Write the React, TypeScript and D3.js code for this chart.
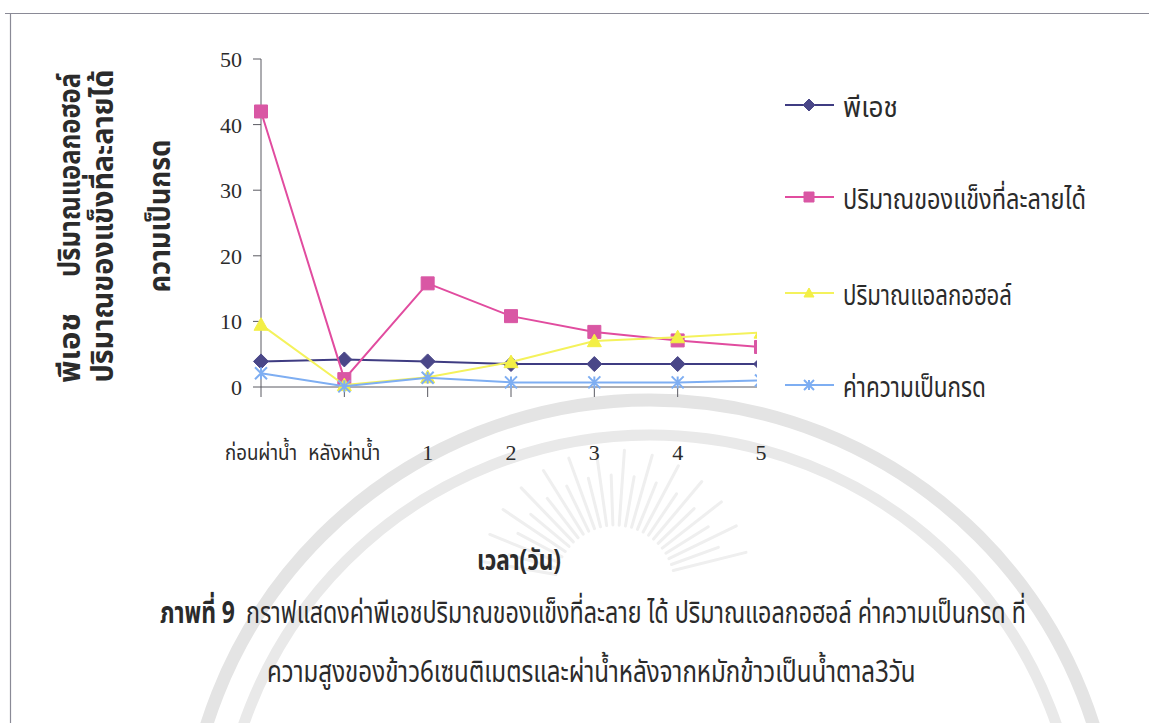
import React, { useLayoutEffect, useRef, useState } from 'react';
import * as d3 from 'd3';

// ---- data ----
const categories = ['ก่อนผ่าน้ำ', 'หลังผ่าน้ำ', '1', '2', '3', '4', '5'];
const phValues = [3.9, 4.2, 3.9, 3.5, 3.5, 3.5, 3.5];
const solidsValues = [42, 1.2, 15.8, 10.8, 8.4, 7.1, 6.1];
const alcoholValues = [9.5, 0.3, 1.5, 3.8, 7.0, 7.6, 8.3];
const acidityValues = [2.1, 0.1, 1.4, 0.7, 0.7, 0.7, 1.0];
const seriesNames = ['พีเอช', 'ปริมาณของแข็งที่ละลายได้', 'ปริมาณแอลกอฮอล์', 'ค่าความเป็นกรด'];
const yTicks = [0, 10, 20, 30, 40, 50];

const xTitle = 'เวลา(วัน)';
const yTitleLines = ['พีเอช', 'ปริมาณแอลกอฮอล์', 'ปริมาณของแข็งที่ละลายได้', 'ความเป็นกรด'];
const captionLead = 'ภาพที่ 9';
const captionLine1 = 'กราฟแสดงค่าพีเอชปริมาณของแข็งที่ละลาย ได้ ปริมาณแอลกอฮอล์ ค่าความเป็นกรด ที่';
const captionLine2 = 'ความสูงของข้าว6เซนติเมตรและผ่าน้ำหลังจากหมักข้าวเป็นน้ำตาล3วัน';

type MarkerKind = 'diamond' | 'square' | 'triangle' | 'cross';

const series: { name: string; values: number[]; line: string; fill: string; marker: MarkerKind; size: number }[] = [
  { name: seriesNames[0], values: phValues, line: '#3f3c82', fill: '#4a4788', marker: 'diamond', size: 15 },
  { name: seriesNames[1], values: solidsValues, line: '#e14c9f', fill: '#d957a4', marker: 'square', size: 13 },
  { name: seriesNames[2], values: alcoholValues, line: '#f4f25c', fill: '#f3ef45', marker: 'triangle', size: 14 },
  { name: seriesNames[3], values: acidityValues, line: '#7eaef2', fill: '#7eaef2', marker: 'cross', size: 12 },
];

const THAI = "'Noto Sans Thai','Noto Serif Thai','Loma','Garuda','Norasi','Kinnari','Tlwg Typo','DejaVu Sans',sans-serif";
const SERIF = "'Liberation Serif','Times New Roman',serif";
const INK = '#2b2b2b';

const W = 1149;
const H = 723;

const x = d3.scalePoint<string>().domain(categories).range([261, 761]);
const y = d3.scaleLinear().domain([0, 50]).range([387, 59]);

function markerPath(kind: MarkerKind, cx: number, cy: number, s: number): string {
  const h = s / 2;
  const p = d3.path();
  if (kind === 'diamond') {
    p.moveTo(cx, cy - h); p.lineTo(cx + h, cy); p.lineTo(cx, cy + h); p.lineTo(cx - h, cy); p.closePath();
  } else if (kind === 'square') {
    p.rect(cx - h, cy - h, s, s);
  } else if (kind === 'triangle') {
    p.moveTo(cx, cy - h); p.lineTo(cx + h, cy + h * 0.8); p.lineTo(cx - h, cy + h * 0.8); p.closePath();
  } else {
    p.moveTo(cx - h, cy - h); p.lineTo(cx + h, cy + h);
    p.moveTo(cx + h, cy - h); p.lineTo(cx - h, cy + h);
    p.moveTo(cx, cy - h); p.lineTo(cx, cy + h);
  }
  return p.toString();
}

function Marker({ kind, cx, cy, s, color }: { kind: MarkerKind; cx: number; cy: number; s: number; color: string }) {
  const d = markerPath(kind, cx, cy, s);
  if (kind === 'cross') return <path d={d} stroke={color} strokeWidth={2} fill="none" />;
  return <path d={d} fill={color} stroke={color} strokeWidth={1} />;
}

// Text squeezed horizontally (in its own frame) to a given advance width,
// which gives the narrow look of the document's Thai face.
function FitText({ x: tx, y: ty, width, anchor = 'start', rotate = 0, children, ...rest }: any) {
  const ref = useRef<SVGTextElement>(null);
  const [k, setK] = useState(1);
  useLayoutEffect(() => {
    const el = ref.current;
    if (el) {
      const w = el.getComputedTextLength();
      if (w > 0) setK(width / w);
    }
  }, [width, children]);
  return (
    <g transform={`translate(${tx},${ty}) rotate(${rotate}) scale(${k},1)`}>
      <text ref={ref} x={0} y={0} textAnchor={anchor} {...rest}>{children}</text>
    </g>
  );
}

// faint seal printed behind the page text
function Seal() {
  const cx = 650;
  const cy = 865;
  const rays = d3.range(-170, -8, 6);
  const sun = { x: 615, y: 585 };
  return (
    <g>
      <circle cx={cx} cy={cy} r={465} fill="none" stroke="#e4e4e4" strokeWidth={13} />
      <circle cx={cx} cy={cy} r={430} fill="none" stroke="#e9e9e9" strokeWidth={11} />
      {rays.map((a, i) => {
        const r0 = 60;
        const r1 = i % 2 === 0 ? 135 : 110;
        const t = (a * Math.PI) / 180;
        return (
          <line key={a}
            x1={sun.x + r0 * Math.cos(t)} y1={sun.y + r0 * Math.sin(t)}
            x2={sun.x + r1 * Math.cos(t)} y2={sun.y + r1 * Math.sin(t)}
            stroke="#efefef" strokeWidth={3} strokeLinecap="round" />
        );
      })}
    </g>
  );
}

export default function App() {
  const lineGen = (vals: number[]) =>
    d3.line<number>().x((_, i) => x(categories[i]) as number).y((v) => y(v))(vals) as string;

  const legendRows = [105, 197, 293, 385];
  const legendWidths = [55, 243, 169, 143];

  return (
    <svg width={W} height={H} viewBox={`0 0 ${W} ${H}`}
      style={{ position: 'absolute', left: 0, top: 0, background: '#fff' }}>
      <rect x={0} y={0} width={W} height={H} fill="#fff" />
      <Seal />

      {/* page frame */}
      <line x1={5} y1={13.5} x2={W} y2={13.5} stroke="#8a8a96" strokeWidth={1.2} />
      <line x1={10.5} y1={13} x2={10.5} y2={H} stroke="#8a8a96" strokeWidth={1.2} />

      <defs>
        <clipPath id="plot-clip">
          <rect x={0} y={0} width={757} height={H} />
        </clipPath>
      </defs>

      {/* axes */}
      <g stroke="#5a5a62" strokeWidth={1}>
        <line x1={261} y1={y(50)} x2={261} y2={y(0)} />
        <line x1={261} y1={y(0)} x2={757} y2={y(0)} />
        {yTicks.map((t) => (
          <line key={t} x1={253} y1={y(t)} x2={261} y2={y(t)} />
        ))}
        {categories.slice(0, 6).map((c) => (
          <line key={c} x1={x(c)} y1={y(0)} x2={x(c)} y2={y(0) + 10} />
        ))}
      </g>
      <g fontFamily={SERIF} fontSize={22} fill={INK} textAnchor="end">
        {yTicks.map((t) => (
          <text key={t} x={242} y={y(t) + 8}>{t}</text>
        ))}
      </g>
      {categories.map((c, i) =>
        i < 2 ? (
          <FitText key={c} x={x(c)} y={460} width={72} anchor="middle"
            fontFamily={THAI} fontSize={22} fill={INK}>{c}</FitText>
        ) : (
          <text key={c} x={x(c)} y={460} fontFamily={SERIF} fontSize={22} fill={INK}
            textAnchor="middle">{c}</text>
        )
      )}

      {/* series */}
      <g clipPath="url(#plot-clip)">
        {series.map((s) => (
          <g key={s.name}>
            <path d={lineGen(s.values)} fill="none" stroke={s.line} strokeWidth={2} />
            {s.values.map((v, i) => (
              <Marker key={i} kind={s.marker} cx={x(categories[i]) as number} cy={y(v)}
                s={s.size} color={s.fill} />
            ))}
          </g>
        ))}
      </g>

      {/* legend */}
      {series.map((s, i) => (
        <g key={s.name}>
          <line x1={785} y1={legendRows[i]} x2={834} y2={legendRows[i]} stroke={s.line} strokeWidth={2} />
          <Marker kind={s.marker} cx={809} cy={legendRows[i]} s={s.marker === 'diamond' ? 12 : 10} color={s.fill} />
          <FitText x={843} y={legendRows[i] + 12} width={legendWidths[i]}
            fontFamily={THAI} fontSize={28} fill={INK}>{s.name}</FitText>
        </g>
      ))}

      {/* vertical axis title */}
      <FitText x={80} y={348} rotate={-90} width={70} anchor="middle"
        fontFamily={THAI} fontSize={30} fontWeight="bold" fill={INK}>{yTitleLines[0]}</FitText>
      <FitText x={80} y={175} rotate={-90} width={204} anchor="middle"
        fontFamily={THAI} fontSize={30} fontWeight="bold" fill={INK}>{yTitleLines[1]}</FitText>
      <FitText x={113} y={226} rotate={-90} width={313} anchor="middle"
        fontFamily={THAI} fontSize={30} fontWeight="bold" fill={INK}>{yTitleLines[2]}</FitText>
      <FitText x={170} y={216} rotate={-90} width={153} anchor="middle"
        fontFamily={THAI} fontSize={30} fontWeight="bold" fill={INK}>{yTitleLines[3]}</FitText>

      {/* horizontal axis title and caption */}
      <FitText x={519} y={570} width={84} anchor="middle"
        fontFamily={THAI} fontSize={28} fontWeight="bold" fill={INK}>{xTitle}</FitText>
      <FitText x={160} y={623} width={75}
        fontFamily={THAI} fontSize={30} fontWeight="bold" fill={INK}>{captionLead}</FitText>
      <FitText x={246} y={623} width={780}
        fontFamily={THAI} fontSize={30} fill={INK}>{captionLine1}</FitText>
      <FitText x={267} y={682} width={649}
        fontFamily={THAI} fontSize={30} fill={INK}>{captionLine2}</FitText>
    </svg>
  );
}
